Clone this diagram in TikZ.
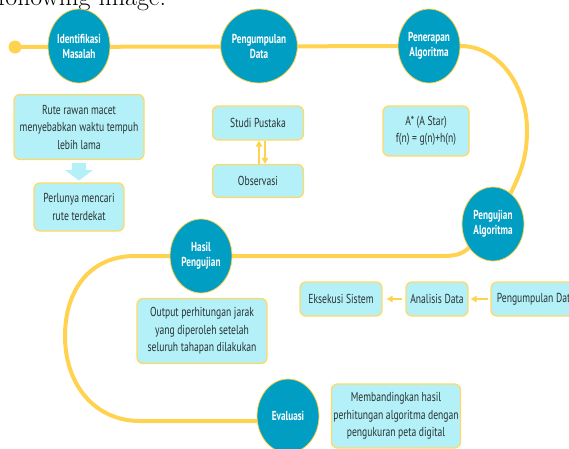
\documentclass[tikz,border=0pt]{standalone}
\usepackage{fontspec}
\newfontfamily\condf[FakeStretch=0.74]{PT Sans}
\newfontfamily\condb[FakeStretch=0.71]{PT Sans Bold}
\usetikzlibrary{shapes.geometric,arrows.meta,backgrounds}
\definecolor{lineY}{HTML}{FFD24F}
\definecolor{circT}{HTML}{009EC3}
\definecolor{boxF}{HTML}{B3F0F7}
\definecolor{boxB}{HTML}{FFD966}
\definecolor{txtC}{HTML}{2A3333}
\tikzset{
  stage/.style={ellipse, fill=circT, draw=lineY, line width=0.8pt,
    minimum width=62pt, minimum height=74pt, inner sep=0pt, text=white,
    font=\condb\fontsize{13}{15}\selectfont, align=center},
  infobox/.style={rectangle, rounded corners=6pt, fill=boxF, draw=boxB,
    line width=1.3pt, text=txtC, inner sep=0pt,
    font=\condf\fontsize{13}{17.5}\selectfont, align=center},
  pathline/.style={draw=lineY, line width=4pt},
  smallarrow/.style={draw=lineY, line width=1.5pt, -{Triangle[length=6pt,width=6.5pt]}}
}
\begin{document}
\begin{tikzpicture}[x=1pt,y=-1pt]
\useasboundingbox (0,0) rectangle (569,448);
\clip (0,0) rectangle (569,448);
\node[anchor=base west, inner sep=0pt, font=\fontsize{26}{30}\selectfont] (cap) at (-2,5) {following image.};

% stages
\node[circle, fill=lineY, minimum size=13pt, inner sep=0pt] (dot) at (15,47) {};
\node[stage] (iden)  at (79,46)  {Identifikasi\\Masalah};
\node[stage] (pgd)   at (259,46) {Pengumpulan\\Data};
\node[stage] (pen)   at (429,46) {Penerapan\\Algoritma};
\node[stage] (uji)   at (493,224) {Pengujian\\Algoritma};
\node[stage] (hasil) at (201,256) {Hasil\\Pengujian};
\node[stage] (eval)  at (288,416) {Evaluasi};

% boxes
\node[infobox, minimum width=130pt, minimum height=65pt] (b1) at (79,127) {Rute rawan macet\\menyebabkan waktu tempuh\\lebih lama};
\node[infobox, minimum width=90pt, minimum height=48pt] (b2) at (79,207) {Perlunya mencari\\rute terdekat};
\node[infobox, minimum width=91pt, minimum height=34pt] (studi) at (258,123) {Studi Pustaka};
\node[infobox, minimum width=91pt, minimum height=33pt] (obs) at (258,181) {Observasi};
\node[infobox, minimum width=86pt, minimum height=50pt] (astar) at (426,131) {A* (A Star)\\f(n) = g(n)+h(n)};
\node[infobox, minimum width=82pt, minimum height=34pt] (eks) at (341,299) {Eksekusi Sistem};
\node[infobox, minimum width=62pt, minimum height=34pt] (ana) at (437,299) {Analisis Data};
\node[infobox, minimum width=90pt, minimum height=34pt] (pdat) at (536,299) {Pengumpulan Data};
\node[infobox, minimum width=130pt, minimum height=65pt] (outp) at (202,331) {Output perhitungan jarak\\yang diperoleh setelah\\seluruh tahapan dilakukan};
\node[infobox, minimum width=129pt, minimum height=64pt] (band) at (396,416) {Membandingkan hasil\\perhitungan algoritma dengan\\pengukuran peta digital};

% block arrow between b1 and b2
\fill[boxF] (72,163) -- (86,163) -- (86,170) -- (93,170) -- (79,180.5) -- (65,170) -- (72,170) -- cycle;

% small arrows
\draw[smallarrow] ([xshift=1pt]obs.north) -- ([xshift=1pt]studi.south);
\draw[smallarrow] ([xshift=7pt]studi.south) -- ([xshift=7pt]obs.north);
\draw[smallarrow, shorten <=3pt, shorten >=4pt] (ana.west) -- (eks.east);
\draw[smallarrow, shorten <=2pt, shorten >=2pt] (pdat.west) -- (ana.east);

% main path
\begin{scope}[on background layer]
\draw[pathline] (dot.center) -- (pen.center);
\draw[pathline] (pen.center) -- (pen.east) .. controls (500,46) and (527,88) .. (527,130)
   .. controls (527,160) and (520,180) .. (uji.center);
\draw[pathline] (uji.center) -- (uji.225) .. controls (460,255) and (455,256) .. (440,256) -- (hasil.center);
\draw[pathline] (hasil.center) -- (135,256) .. controls (90,256) and (65,290) .. (65,336)
   .. controls (65,385) and (95,421) .. (140,421) -- ([yshift=-5pt]eval.center);
\end{scope}
\end{tikzpicture}
\end{document}
